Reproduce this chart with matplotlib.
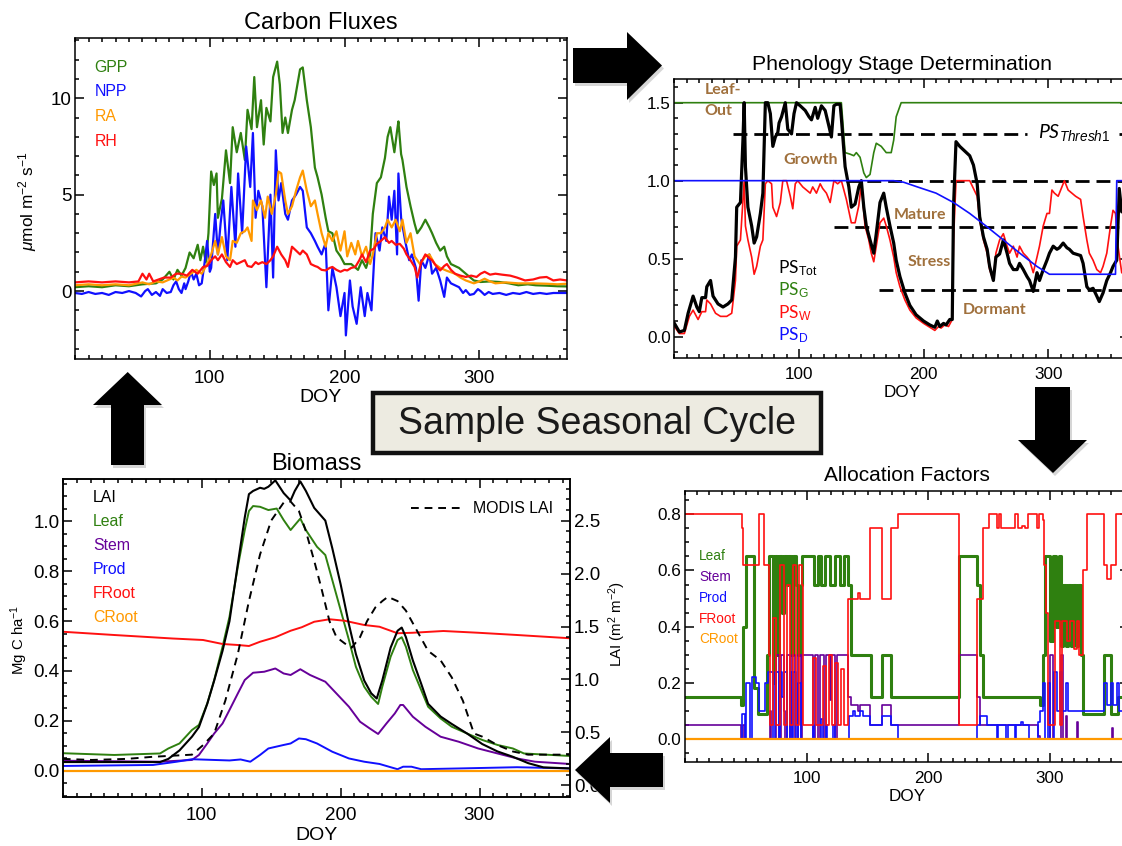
import numpy as np
import matplotlib
matplotlib.use('Agg')
import matplotlib.pyplot as plt
from matplotlib.patches import Polygon, Rectangle
from matplotlib.ticker import MultipleLocator, FixedLocator, FormatStrFormatter

plt.rcParams['font.family'] = ['Liberation Sans', 'DejaVu Sans']
plt.rcParams['mathtext.fontset'] = 'custom'
plt.rcParams['mathtext.rm'] = 'Liberation Sans'
plt.rcParams['mathtext.it'] = 'Liberation Sans:italic'
plt.rcParams['mathtext.bf'] = 'Liberation Sans:bold'
plt.rcParams['axes.linewidth'] = 1.1

# ---------------- data (day of year, value) ----------------
# carbon fluxes, umol m-2 s-1
gpp = [(0,0.2),(10,0.25),(20,0.2),(30,0.3),(40,0.25),(50,0.35),(60,0.4),(65,0.6),(70,1.0),(73,0.6),(76,1.1),(79,0.8),
       (82,1.2),(85,2.0),(88,1.7),(91,2.4),(93,1.6),(95,2.3),(97,1.5),(99,3.0),(101,6.2),(103,5.5),(105,6.1),(106,3.8),
       (109,4.8),(112,7.3),(115,5.6),(117,8.5),(120,7.2),(123,8.2),(126,6.8),(128,9.4),(131,8.4),(133,11.1),(135,8.5),
       (138,9.9),(140,7.6),(142,9.5),(145,8.8),(147,11.1),(150,11.9),(152,10.7),(154,8.2),(156,9.0),(158,8.2),(161,9.4),
       (163,9.9),(165,10.7),(167,11.5),(169,11.6),(172,9.9),(175,8.5),(178,6.4),(180,5.9),(183,5.0),(186,3.8),(188,3.1),
       (191,3.0),(194,2.1),(197,1.8),(200,1.4),(205,1.4),(210,1.1),(213,1.6),(216,1.2),(219,1.9),(221,4.0),(224,5.6),
       (227,5.9),(230,6.9),(232,8.0),(234,8.5),(237,7.2),(239,8.3),(240,8.8),(242,7.1),(243,6.8),(246,5.4),(249,4.4),
       (252,3.5),(254,3.0),(257,3.3),(260,3.7),(263,3.3),(265,3.0),(268,2.5),(271,2.1),(274,2.3),(276,1.8),(279,1.4),
       (282,1.3),(285,1.2),(290,0.9),(296,0.55),(301,0.47),(308,0.5),(315,0.47),(322,0.4),(329,0.3),(336,0.35),
       (342,0.3),(350,0.28),(358,0.25),(365,0.24)]
npp = [(0,-0.1),(5,-0.15),(10,-0.05),(15,-0.15),(20,-0.1),(25,-0.2),(30,-0.05),(35,-0.1),(40,0.0),(45,-0.1),(49,-0.28),
       (52,0.0),(54,0.1),(57,-0.2),(60,-0.05),(63,-0.25),(65,0.1),(68,-0.1),(71,-0.05),(73,0.3),(75,0.5),(77,0.1),(79,-0.1),
       (81,0.4),(82,0.1),(84,0.5),(86,1.0),(88,0.6),(90,0.9),(92,0.3),(94,0.4),(96,1.4),(98,2.6),(100,1.0),(101,1.2),
       (104,4.0),(106,1.9),(108,3.5),(110,4.7),(113,1.6),(116,5.4),(119,2.3),(121,6.1),(124,3.0),(127,7.5),(130,5.4),
       (132,8.2),(134,3.8),(136,5.2),(139,4.4),(142,0.2),(145,5.0),(147,0.7),(149,7.3),(151,4.7),(153,5.6),(156,4.0),
       (158,3.7),(161,4.7),(164,5.0),(167,5.4),(169,5.2),(172,3.3),(175,3.0),(178,2.6),(180,2.3),(183,1.9),(186,2.5),
       (188,-1.0),(191,1.2),(194,0.2),(197,-1.3),(200,-0.1),(201,-2.3),(204,0.55),(206,-0.8),(209,-1.7),(212,0.2),
       (215,-1.3),(217,-0.1),(220,-1.0),(223,3.0),(226,2.1),(228,3.3),(231,2.6),(233,4.9),(235,3.7),(237,5.2),(239,1.9),
       (240,6.1),(242,3.8),(245,2.6),(248,1.6),(250,1.9),(253,1.2),(255,-0.5),(257,1.6),(260,1.2),(263,1.9),(265,0.9),
       (268,1.2),(271,0.55),(274,-0.3),(276,0.7),(279,0.4),(282,0.3),(285,0.2),(288,-0.1),(290,0.05),(293,-0.2),
       (296,-0.15),(299,0.1),(301,0.0),(304,-0.2),(307,-0.05),(310,-0.15),(315,-0.1),(320,-0.2),(325,-0.1),(330,-0.15),
       (335,-0.05),(340,-0.15),(345,-0.1),(350,-0.15),(355,-0.1),(360,-0.1),(365,-0.1)]
ra = [(0,0.3),(10,0.35),(20,0.3),(30,0.35),(40,0.3),(50,0.45),(55,0.35),(60,0.5),(65,0.45),(70,0.6),(73,0.7),(76,0.55),
      (79,0.75),(82,0.7),(86,0.9),(90,1.1),(94,0.9),(98,1.4),(101,1.9),(104,2.6),(106,1.9),(109,2.8),(112,1.8),(115,1.6),
      (117,2.6),(120,2.5),(123,3.0),(126,3.1),(128,3.3),(131,2.6),(132,4.7),(135,4.2),(138,4.7),(141,3.8),(143,4.9),
      (146,4.0),(149,5.0),(151,6.2),(153,6.1),(156,4.7),(158,4.0),(161,4.4),(164,5.2),(167,5.9),(169,6.25),(172,5.2),
      (175,4.4),(178,4.7),(180,4.0),(183,3.0),(186,2.3),(188,3.0),(191,2.6),(194,3.1),(197,2.1),(200,3.1),(202,1.8),
      (205,2.5),(208,1.9),(210,2.6),(213,1.8),(216,2.3),(219,1.4),(221,1.9),(224,3.0),(227,3.0),(230,3.3),(232,3.7),
      (235,3.3),(238,3.7),(241,3.1),(243,3.7),(246,2.5),(249,3.0),(252,1.8),(256,1.4),(260,1.8),(263,1.9),(267,1.4),
      (271,1.2),(276,1.05),(282,0.9),(286,0.7),(290,0.55),(296,0.4),(300,0.5),(304,0.64),(308,0.5),(312,0.4),(320,0.45),
      (329,0.4),(340,0.4),(350,0.38),(358,0.35),(365,0.38)]
rh = [(0,0.45),(10,0.5),(20,0.45),(30,0.5),(40,0.45),(47,0.5),(50,0.9),(53,0.6),(55,0.9),(58,0.5),(62,0.6),(66,0.7),
      (71,0.7),(75,0.9),(79,0.9),(83,0.8),(87,1.1),(91,0.9),(95,1.25),(98,1.3),(101,1.6),(104,1.8),(106,1.6),(109,1.9),
      (112,1.5),(115,1.25),(117,1.6),(120,1.4),(123,1.5),(126,1.6),(128,1.3),(131,1.25),(134,1.5),(136,1.4),(139,1.5),
      (142,1.4),(145,1.6),(147,1.8),(150,2.3),(153,1.9),(156,1.6),(158,1.25),(161,2.3),(164,2.1),(167,1.9),(169,2.1),
      (172,1.9),(175,1.4),(178,1.3),(180,1.25),(183,1.1),(186,1.07),(189,1.2),(191,1.25),(194,1.1),(197,1.0),(200,1.1),
      (202,1.07),(205,1.2),(208,1.25),(211,1.6),(213,1.9),(216,1.5),(219,2.1),(222,2.2),(224,2.45),(227,2.6),(230,2.8),
      (233,2.5),(235,2.6),(238,2.4),(241,2.45),(244,2.2),(246,1.9),(249,1.6),(252,1.25),(254,0.7),(257,1.5),(260,1.9),
      (263,1.7),(265,1.6),(268,1.3),(271,1.07),(274,1.3),(276,1.4),(279,1.1),(282,0.9),(286,0.8),(290,0.73),(294,0.8),
      (298,0.73),(301,0.9),(304,1.0),(308,0.85),(312,0.9),(317,0.85),(323,0.8),(328,0.7),(334,0.55),(340,0.6),(345,0.7),
      (350,0.73),(355,0.55),(360,0.6),(365,0.55)]

# phenology stage
ps_g = [(0,1.5),(134,1.5),(137,1.18),(141,1.17),(144,1.16),(146,1.18),(149,1.15),(152,1.05),(154,1.02),(157,1.04),
        (160,1.18),(162,1.24),(166,1.22),(170,1.18),(174,1.18),(176,1.26),(178,1.41),(182,1.5),(365,1.5)]
ps_d = [(0,1.0),(176,1.0),(184,0.99),(195,0.96),(210,0.92),(224,0.86),(237,0.79),(250,0.71),(264,0.62),(278,0.53),
        (291,0.45),(301,0.4),(354,0.4),(355,1.0),(365,1.0)]
ps_w = [(0,0.065),(4,0.02),(8,0.02),(12,0.13),(15,0.17),(19,0.11),(22,0.16),(25,0.16),(26,0.235),(29,0.21),(33,0.15),
        (37,0.13),(42,0.13),(46,0.15),(49,0.36),(50,0.58),(53,0.62),(55,0.88),(56,1.0),(57,0.71),(59,0.62),(62,0.51),
        (64,0.4),(66,0.45),(69,0.58),(71,0.62),(73,0.98),(75,1.0),(78,0.98),(79,0.83),(82,0.77),(85,0.86),(87,1.0),
        (90,1.0),(93,0.9),(95,0.82),(97,0.98),(99,1.0),(103,0.96),(106,0.94),(109,0.92),(111,0.96),(114,0.92),(117,0.98),
        (119,0.95),(122,0.92),(125,0.86),(128,1.0),(131,0.98),(134,1.0),(138,0.88),(142,0.73),(145,0.73),(148,0.84),
        (150,0.98),(153,0.71),(156,0.62),(158,0.535),(160,0.48),(162,0.58),(165,0.73),(168,0.76),(170,0.71),(173,0.62),
        (176,0.51),(178,0.41),(181,0.32),(185,0.235),(189,0.17),(194,0.12),(200,0.085),(205,0.06),(209,0.04),(212,0.065),
        (214,0.055),(217,0.075),(220,0.065),(223,0.11),(224,0.62),(226,1.0),(237,1.0),(243,0.9),(245,0.75),(248,0.62),
        (251,0.535),(253,0.43),(256,0.36),(258,0.535),(261,0.62),(264,0.66),(267,0.58),(269,0.535),(272,0.58),(275,0.51),
        (277,0.58),(280,0.535),(283,0.51),(285,0.49),(288,0.41),(291,0.51),(293,0.58),(296,0.71),(299,0.79),(301,0.79),
        (303,0.94),(305,0.92),(308,0.9),(311,0.96),(313,1.0),(316,0.94),(319,0.92),(322,0.9),(326,0.88),(328,0.77),
        (331,0.62),(333,0.535),(336,0.49),(339,0.43),(342,0.41),(344,0.45),(347,0.535),(350,0.71),(352,0.81),(354,0.79),
        (356,0.58),(359,0.41),(362,0.4),(365,0.45)]
ps_tot = [(0,0.085),(4,0.03),(8,0.04),(11,0.15),(15,0.26),(18,0.19),(20,0.16),(22,0.25),(25,0.25),(26,0.32),(29,0.36),
          (31,0.26),(35,0.21),(39,0.19),(43,0.21),(46,0.235),(49,0.51),(50,0.83),(53,0.86),(55,1.26),(56,1.5),(57,1.09),
          (59,0.83),(62,0.71),(64,0.6),(66,0.64),(69,0.79),(71,0.92),(73,1.5),(75,1.5),(77,1.43),(79,1.22),(81,1.28),
          (83,1.31),(84,1.37),(86,1.41),(89,1.5),(91,1.33),(94,1.3),(96,1.43),(98,1.5),(101,1.48),(105,1.45),(108,1.41),
          (110,1.39),(113,1.47),(115,1.4),(118,1.48),(121,1.45),(124,1.35),(126,1.28),(128,1.48),(130,1.49),(133,1.49),
          (134,1.4),(137,1.09),(140,0.96),(142,0.83),(145,0.85),(148,0.96),(150,1.0),(152,0.83),(154,0.71),(157,0.62),
          (160,0.535),(162,0.66),(165,0.86),(168,0.92),(170,0.83),(173,0.71),(176,0.6),(178,0.49),(181,0.385),(185,0.28),
          (189,0.2),(194,0.14),(200,0.1),(205,0.075),(209,0.06),(211,0.1),(213,0.065),(216,0.085),(218,0.075),(221,0.11),
          (223,0.11),(224,0.83),(226,1.25),(229,1.22),(233,1.19),(237,1.16),(240,1.1),(243,0.98),(245,0.77),(248,0.64),
          (251,0.56),(253,0.45),(256,0.36),(258,0.51),(261,0.53),(264,0.62),(267,0.535),(269,0.47),(272,0.43),(275,0.43),
          (277,0.47),(280,0.43),(283,0.385),(285,0.36),(288,0.29),(291,0.41),(293,0.36),(296,0.43),(299,0.49),(301,0.535),
          (304,0.58),(307,0.56),(309,0.57),(312,0.6),(315,0.57),(317,0.56),(320,0.535),(326,0.52),(328,0.47),(331,0.32),
          (333,0.3),(336,0.31),(339,0.26),(341,0.225),(344,0.28),(347,0.36),(350,0.41),(352,0.45),(355,0.49),(357,0.95),
          (359,0.8),(365,0.8)]
thresh_y = [1.3, 1.3, 1.0, 0.7, 0.3]
thresh_start = [47, 357, 138, 128, 164]
thresh_end = [283, 365, 365, 365, 365]

# biomass, Mg C ha-1 (left) and LAI m2 m-2 (right)
lai = [(0,0.22),(70,0.22),(76,0.25),(84,0.33),(93,0.46),(98,0.55),(104,0.77),(109,0.99),(115,1.27),(120,1.55),
       (126,2.09),(131,2.53),(134,2.75),(137,2.78),(142,2.81),(145,2.8),(148,2.82),(153,2.88),(159,2.76),(164,2.69),
       (167,2.78),(171,2.87),(175,2.78),(181,2.62),(189,2.5),(194,2.24),(200,1.9),(206,1.52),(211,1.24),(217,0.99),
       (222,0.87),(226,0.82),(230,0.99),(236,1.3),(241,1.46),(244,1.49),(247,1.4),(252,1.18),(258,0.96),(263,0.77),
       (272,0.65),(280,0.58),(291,0.49),(302,0.39),(313,0.32),(324,0.27),(335,0.21),(346,0.17),(365,0.16)]
modis_lai = [(0,0.25),(21,0.24),(46,0.25),(65,0.27),(79,0.28),(93,0.29),(101,0.38),(109,0.49),(117,0.8),(126,1.24),
             (134,1.74),(142,2.18),(150,2.5),(159,2.67),(164,2.68),(170,2.59),(175,2.4),(181,2.12),(186,1.87),(192,1.55),
             (197,1.4),(203,1.34),(208,1.3),(214,1.4),(219,1.55),(225,1.68),(230,1.74),(234,1.78),(241,1.74),(247,1.65),
             (255,1.46),(263,1.27),(272,1.18),(280,1.02),(288,0.8),(296,0.49),(302,0.46),(313,0.38),(324,0.32),(335,0.29),
             (365,0.29)]
leaf = [(0,0.071),(37,0.064),(70,0.07),(76,0.09),(84,0.11),(93,0.164),(98,0.184),(104,0.27),(109,0.364),(115,0.497),
        (120,0.617),(126,0.817),(131,0.964),(134,1.04),(137,1.06),(142,1.057),(148,1.044),(154,1.05),(159,1.004),
        (164,0.964),(171,1.01),(175,0.964),(183,0.897),(189,0.864),(194,0.764),(200,0.644),(206,0.524),(211,0.417),
        (217,0.337),(222,0.297),(227,0.268),(230,0.337),(236,0.457),(241,0.524),(244,0.535),(247,0.497),(252,0.404),
        (258,0.324),(263,0.257),(272,0.21),(280,0.177),(291,0.15),(302,0.124),(313,0.104),(324,0.09),(332,0.07),(365,0.06)]
stem = [(0,0.041),(70,0.037),(93,0.044),(98,0.064),(104,0.11),(109,0.15),(115,0.19),(120,0.244),(126,0.31),(131,0.364),
        (137,0.393),(145,0.397),(153,0.41),(159,0.39),(164,0.384),(171,0.407),(178,0.384),(189,0.357),(197,0.31),
        (206,0.257),(214,0.197),(221,0.17),(227,0.148),(233,0.19),(239,0.23),(243,0.264),(245,0.264),(252,0.217),
        (261,0.177),(272,0.137),(285,0.117),(299,0.09),(313,0.07),(327,0.05),(340,0.037),(365,0.028)]
prod = [(0,0.02),(65,0.024),(82,0.037),(93,0.047),(109,0.044),(120,0.042),(128,0.046),(135,0.037),(142,0.064),
        (148,0.09),(159,0.104),(164,0.11),(170,0.13),(175,0.127),(183,0.11),(194,0.077),(206,0.05),(217,0.037),
        (228,0.028),(236,0.015),(241,0.007),(245,0.017),(251,0.017),(258,0.007),(285,0.01),(327,0.015),(365,0.01)]
froot = [(0,0.557),(37,0.544),(79,0.53),(101,0.524),(115,0.508),(126,0.504),(134,0.5),(142,0.517),(153,0.535),
         (164,0.561),(172,0.575),(181,0.597),(192,0.607),(203,0.601),(217,0.584),(228,0.577),(241,0.551),(252,0.553),
         (274,0.56),(299,0.553),(327,0.544),(365,0.531)]
croot = [(0,0.0),(365,0.0)]

# allocation factors (step breakpoints: value holds from that day on)
af_leaf = [(0,0.15),(46,0.12),(48,0.4),(50,0.65),(57,0.18),(60,0.09),(67,0.3),(69,0.65),(72,0.2),(74,0.65),(76,0.3),
           (77,0.65),(80,0.45),(81,0.65),(84,0.55),(85,0.65),(87,0.3),(89,0.65),(91,0.55),(93,0.3),(95,0.55),(96,0.65),
           (106,0.55),(109,0.65),(112,0.55),(115,0.65),(119,0.55),(123,0.65),(127,0.55),(131,0.65),(134,0.55),(136,0.3),
           (153,0.15),(162,0.3),(169,0.15),(225,0.65),(240,0.55),(242,0.3),(245,0.15),(292,0.12),(294,0.3),(296,0.65),
           (300,0.35),(302,0.65),(305,0.4),(307,0.65),(309,0.33),(311,0.55),(313,0.33),(315,0.55),(317,0.33),(319,0.55),
           (321,0.33),(323,0.55),(325,0.3),(327,0.09),(344,0.3),(350,0.09),(356,0.15),(365,0.15)]
af_stem = [(0,0.05),(46,0.0),(48,0.05),(49,0.0),(70,0.1),(71,0.0),(75,0.3),(77,0.0),(79,0.3),(81,0.1),(82,0.0),(84,0.3),
           (86,0.0),(88,0.3),(90,0.0),(93,0.3),(95,0.0),(96,0.3),(105,0.0),(107,0.3),(109,0.0),(111,0.3),(114,0.0),
           (116,0.3),(119,0.14),(120,0.3),(123,0.0),(125,0.3),(134,0.15),(136,0.12),(142,0.1),(144,0.12),(152,0.05),
           (162,0.12),(169,0.05),(225,0.3),(240,0.15),(242,0.05),(290,0.01),(292,0.0),(300,0.3),(302,0.0),(309,0.3),
           (311,0.0),(313,0.08),(314,0.0),(322,0.06),(323,0.0),(351,0.04),(352,0.0),(365,0.0)]
af_prod = [(0,0.0),(47,0.09),(49,0.0),(50,0.2),(53,0.0),(55,0.22),(58,0.2),(61,0.1),(66,0.2),(68,0.24),(72,0.0),
           (74,0.24),(77,0.0),(78,0.24),(80,0.15),(81,0.24),(84,0.0),(86,0.24),(88,0.0),(89,0.24),(91,0.0),(93,0.2),
           (95,0.0),(105,0.05),(106,0.0),(112,0.07),(113,0.0),(116,0.05),(117,0.0),(122,0.05),(123,0.0),(135,0.08),
           (138,0.1),(140,0.08),(144,0.1),(146,0.08),(152,0.05),(162,0.08),(169,0.05),(175,0.0),(240,0.05),(242,0.08),
           (248,0.05),(256,0.0),(257,0.05),(264,0.0),(265,0.05),(271,0.0),(272,0.05),(276,0.06),(278,0.05),(283,0.0),
           (290,0.06),(292,0.1),(294,0.2),(296,0.0),(298,0.2),(300,0.0),(303,0.24),(306,0.1),(308,0.24),(310,0.1),
           (313,0.2),(315,0.1),(344,0.2),(347,0.12),(350,0.2),(352,0.12),(355,0.2),(357,0.1),(365,0.1)]
af_froot = [(0,0.8),(47,0.75),(48,0.62),(61,0.8),(65,0.62),(69,0.3),(70,0.05),(72,0.43),(75,0.05),(78,0.62),(81,0.05),
            (84,0.55),(86,0.05),(89,0.62),(91,0.05),(94,0.62),(96,0.55),(97,0.05),(105,0.29),(108,0.05),(113,0.26),
            (116,0.05),(118,0.3),(121,0.05),(123,0.27),(126,0.05),(128,0.25),(131,0.05),(134,0.5),(142,0.52),(144,0.5),
            (152,0.75),(162,0.5),(169,0.75),(175,0.8),(225,0.05),(240,0.5),(245,0.75),(250,0.8),(256,0.75),(258,0.8),
            (260,0.75),(271,0.8),(274,0.75),(277,0.76),(279,0.75),(282,0.8),(289,0.75),(291,0.8),(294,0.78),(295,0.62),
            (297,0.45),(298,0.05),(304,0.42),(308,0.05),(310,0.42),(314,0.35),(316,0.42),(320,0.32),(322,0.42),(324,0.3),
            (327,0.6),(330,0.8),(344,0.62),(347,0.57),(350,0.62),(354,0.8),(365,0.8)]
af_croot = [(0,0.0),(365,0.0)]

# ---------------- layout ----------------
W, H = 1122, 846
fig = plt.figure(figsize=(W / 100, H / 100), dpi=100)
fig.patch.set_facecolor('white')

GREEN = '#2f8010'
PURPLE = '#660099'
ORANGE = '#ff9900'
BLUE = '#1010ff'
RED = '#ff1010'
BROWN = '#a0703c'


def axes_px(l, t, r, b):
    return fig.add_axes([l / W, 1 - b / H, (r - l) / W, (b - t) / H])


def style(ax, ylim, ymajor, yminor, fmt, big, right=True):
    ax.set_xlim(0, 365)
    ax.set_ylim(*ylim)
    ax.xaxis.set_major_locator(FixedLocator([100, 200, 300]))
    ax.xaxis.set_minor_locator(MultipleLocator(10))
    ax.yaxis.set_major_locator(MultipleLocator(ymajor))
    ax.yaxis.set_minor_locator(MultipleLocator(yminor))
    ax.yaxis.set_major_formatter(FormatStrFormatter(fmt))
    size = 13.5 if big else 12.3
    ax.tick_params(which='both', direction='in', top=True, right=right, labelsize=size, width=1.1)
    ax.tick_params(which='major', length=6.5)
    ax.tick_params(which='minor', length=3.2)
    ax.tick_params(axis='x', pad=7.5 if big else 6.5)
    ax.tick_params(axis='y', pad=2.5)
    ax.set_xlabel('DOY', fontsize=14 if big else 12.3, labelpad=2)


def xy(pts):
    a = np.array(pts, dtype=float)
    return a[:, 0], a[:, 1]


# ---- Carbon fluxes ----
ax1 = axes_px(75.1, 38.5, 566.8, 359.3)
style(ax1, (-3.54, 13.1), 5, 1, '%d', big=True)
for series, c in [(gpp, GREEN), (npp, BLUE), (ra, ORANGE), (rh, RED)]:
    ax1.plot(*xy(series), color=c, lw=1.6)
ax1.set_title('Carbon Fluxes', fontsize=17, pad=7)
for lab, c, y in [('GPP', GREEN, 11.6), ('NPP', BLUE, 10.35), ('RA', ORANGE, 9.05), ('RH', RED, 7.76)]:
    ax1.text(14.3, y, lab, color=c, fontsize=11.4, va='center', ha='left')
fig.text(27.7 / W, 1 - 201 / H, r'$\mu$mol m$^{-2}$ s$^{-1}$', rotation=90, ha='center', va='center', fontsize=12.4)

# ---- Phenology ----
ax2 = axes_px(674.4, 79.3, 1129.2, 357.7)
style(ax2, (-0.135, 1.65), 0.5, 0.1, '%.1f', big=False)
ax2.hlines(thresh_y, thresh_start, thresh_end, colors='black', lw=2.0, linestyles=(0, (5, 2.5)))
ax2.plot(*xy(ps_g), color=GREEN, lw=1.2)
ax2.plot(*xy(ps_w), color=RED, lw=1.2)
ax2.plot(*xy(ps_tot), color='black', lw=2.3)
ax2.plot(*xy(ps_d), color=BLUE, lw=1.2)
ax2.set_title('Phenology Stage Determination', fontsize=15.3, pad=7)
lato_b = dict(family=['Lato', 'DejaVu Sans'], fontweight='bold', color=BROWN, fontsize=11.5)
ax2.text(24, 1.554, 'Leaf-', ha='left', va='baseline', **lato_b)
ax2.text(24, 1.421, 'Out', ha='left', va='baseline', **lato_b)
ax2.text(109, 1.107, 'Growth', ha='center', va='baseline', **lato_b)
ax2.text(197, 0.754, 'Mature', ha='center', va='baseline', **lato_b)
ax2.text(204.6, 0.453, 'Stress', ha='center', va='baseline', **lato_b)
ax2.text(256.7, 0.146, 'Dormant', ha='center', va='baseline', **lato_b)
ax2.text(292, 1.272, r'PS$_{\mathit{Thresh1}}$', ha='left', va='baseline', fontsize=14,
         family=['Lato', 'DejaVu Sans'], fontstyle='italic')
for lab, c, y in [(r'PS$_{\mathrm{Tot}}$', 'black', 0.406), (r'PS$_{\mathrm{G}}$', GREEN, 0.267),
                  (r'PS$_{\mathrm{W}}$', RED, 0.118), (r'PS$_{\mathrm{D}}$', BLUE, -0.021)]:
    ax2.text(83.4, y, lab, color=c, fontsize=12.5, family=['Lato', 'DejaVu Sans'], ha='left', va='baseline')

# ---- Biomass ----
ax3 = axes_px(62.8, 479.3, 569.8, 796.7)
style(ax3, (-0.103, 1.167), 0.2, 0.05, '%.1f', big=True, right=False)
ax3r = ax3.twinx()
ax3r.set_ylim(-0.107, 2.89)
ax3r.yaxis.set_major_locator(MultipleLocator(0.5))
ax3r.yaxis.set_minor_locator(MultipleLocator(0.1))
ax3r.yaxis.set_major_formatter(FormatStrFormatter('%.1f'))
ax3r.tick_params(which='both', direction='in', labelsize=13.5, width=1.1, pad=3)
ax3r.tick_params(which='major', length=6.5)
ax3r.tick_params(which='minor', length=3.2)
ax3.plot(*xy(leaf), color=GREEN, lw=1.4)
ax3.plot(*xy(stem), color=PURPLE, lw=1.4)
ax3.plot(*xy(prod), color=BLUE, lw=1.4)
ax3.plot(*xy(froot), color=RED, lw=1.4)
ax3.plot(*xy(croot), color=ORANGE, lw=1.6)
ax3r.plot(*xy(modis_lai), color='black', lw=1.4, linestyle=(0, (4, 3)))
ax3r.plot(*xy(lai), color='black', lw=1.5)
ax3.set_title('Biomass', fontsize=17, pad=7)
for lab, c, y in [('LAI', 'black', 1.093), ('Leaf', GREEN, 1.0), ('Stem', PURPLE, 0.904),
                  ('Prod', BLUE, 0.808), ('FRoot', RED, 0.712), ('CRoot', ORANGE, 0.616)]:
    ax3.text(21.7, y, lab, color=c, fontsize=11.4, va='center', ha='left')
ax3.plot([250.4, 286.8], [1.051, 1.051], color='black', lw=1.4, linestyle=(0, (4, 3)))
ax3.text(295, 1.051, 'MODIS LAI', fontsize=11.4, va='center', ha='left')
fig.text(19 / W, 1 - 640 / H, r'Mg C ha$^{-1}$', rotation=90, ha='center', va='center', fontsize=10.8)
fig.text(617 / W, 1 - 624 / H, r'LAI (m$^{2}$ m$^{-2}$)', rotation=90, ha='center', va='center', fontsize=10.8)

# ---- Allocation factors ----
ax4 = axes_px(685, 491, 1129.2, 761.7)
style(ax4, (-0.081, 0.883), 0.2, 0.05, '%.1f', big=False)
ax4.plot(*xy(af_leaf), color=GREEN, lw=2.2, drawstyle='steps-post')
ax4.plot(*xy(af_stem), color=PURPLE, lw=1.2, drawstyle='steps-post')
ax4.plot(*xy(af_prod), color=BLUE, lw=1.2, drawstyle='steps-post')
ax4.plot(*xy(af_froot), color=RED, lw=1.2, drawstyle='steps-post')
ax4.plot(*xy(af_croot), color=ORANGE, lw=1.6)
ax4.set_title('Allocation Factors', fontsize=15, pad=7)
for lab, c, y in [('Leaf', GREEN, 0.651), ('Stem', PURPLE, 0.577), ('Prod', BLUE, 0.503),
                  ('FRoot', RED, 0.428), ('CRoot', ORANGE, 0.356)]:
    ax4.text(11.5, y, lab, color=c, fontsize=9.8, va='center', ha='left')

# ---- centre box ----
fig.add_artist(Rectangle((372.7 / W, 1 - 453.3 / H), (821 - 372.7) / W, (453.3 - 393.3) / H,
                         transform=fig.transFigure, facecolor='#edebe1', edgecolor='#111111', lw=3.2, zorder=3))
fig.text(597 / W, 1 - 423.5 / H, 'Sample Seasonal Cycle', ha='center', va='center', fontsize=27, zorder=4,
         color='#1a1a1a')

# ---- arrows (pixel outlines) ----
arrows = [
    [(573, 48), (627, 48), (627, 32), (662, 65.5), (627, 100), (627, 83), (573, 83)],
    [(1035, 387), (1070, 387), (1070, 440), (1087, 440), (1053, 473), (1018, 440), (1035, 440)],
    [(663, 753), (610, 753), (610, 737), (575, 770), (610, 803), (610, 787), (663, 787)],
    [(111, 465), (144, 465), (144, 405), (162, 405), (127.7, 372), (93, 405), (111, 405)],
]
for pts in arrows:
    shadow = [((x + 2) / W, 1 - (y + 3) / H) for x, y in pts]
    fig.add_artist(Polygon(shadow, closed=True, transform=fig.transFigure, facecolor='#bbbbbb',
                           edgecolor='none', alpha=0.6, zorder=5))
    fig.add_artist(Polygon([(x / W, 1 - y / H) for x, y in pts], closed=True, transform=fig.transFigure,
                           facecolor='black', edgecolor='none', zorder=6))

fig.savefig('out.png', dpi=100)
